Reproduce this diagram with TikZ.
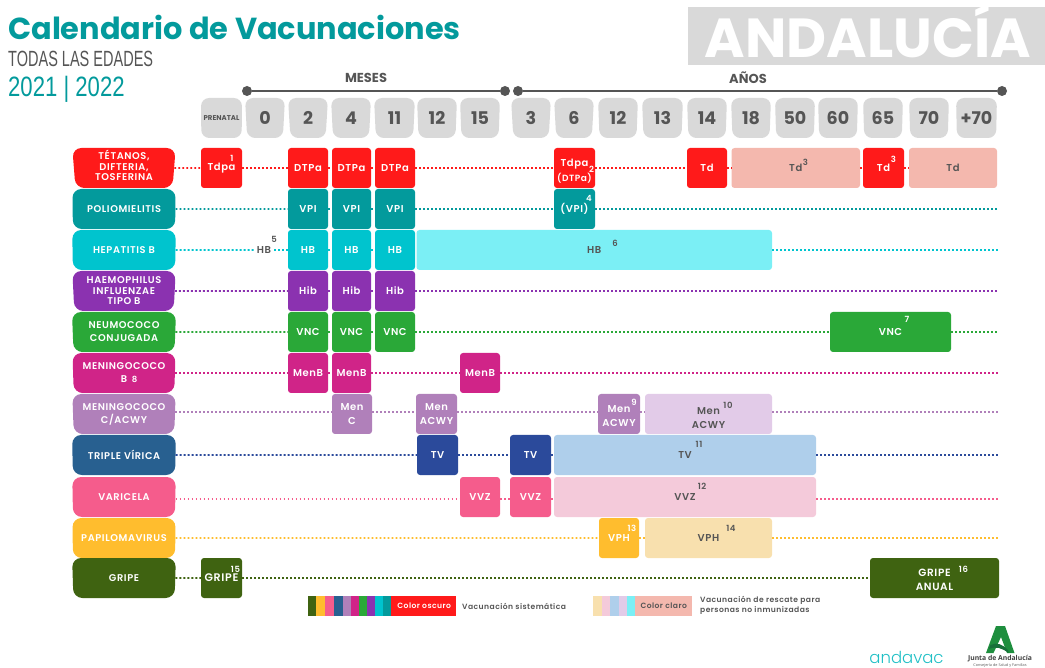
\documentclass[tikz,border=0pt]{standalone}
\usepackage{fontspec}
\setmainfont{Poppins}
\newfontfamily\condf[FakeStretch=0.66]{Liberation Sans}
\newfontfamily\condg[FakeStretch=0.79]{Liberation Sans}
\newfontfamily\lightf[UprightFont=* Light]{Poppins}
\newfontfamily\spf[UprightFont=* SemiBold,LetterSpace=6]{Poppins}
\newfontfamily\junta{Open Sans}
\usetikzlibrary{shapes.geometric}
\definecolor{cred}{HTML}{FF1A1A}
\definecolor{cteal}{HTML}{039A9C}
\definecolor{ccyan}{HTML}{00C4CE}
\definecolor{lcyan}{HTML}{7BEFF5}
\definecolor{cpurp}{HTML}{8B32B0}
\definecolor{cgreen}{HTML}{2AA838}
\definecolor{cmag}{HTML}{D02488}
\definecolor{clil}{HTML}{B080BA}
\definecolor{llil}{HTML}{E2CBE8}
\definecolor{cblue}{HTML}{286090}
\definecolor{dblue}{HTML}{2B4A9B}
\definecolor{lblue}{HTML}{AFCFEB}
\definecolor{cpink}{HTML}{F55C8C}
\definecolor{lpink}{HTML}{F4CADA}
\definecolor{cyel}{HTML}{FFBD2E}
\definecolor{lyel}{HTML}{F8E0AE}
\definecolor{cdgr}{HTML}{3F6311}
\definecolor{lsal}{HTML}{F4B8AE}
\definecolor{tabg}{HTML}{D9D9D9}
\definecolor{dtxt}{HTML}{555555}
\definecolor{jgreen}{HTML}{1E8E3E}
\definecolor{jdark}{HTML}{17703A}
\definecolor{avac}{HTML}{1FBFC5}
\tikzset{
 vbox/.style={rectangle,rounded corners=3pt,inner sep=0pt,align=center,text=white,font=\fontsize{10}{14}\spf},
 lbox/.style={vbox,text=dtxt},
 rowlab/.style={trapezium,trapezium stretches=true,shape border rotate=180,trapezium left angle=87,trapezium right angle=87,rounded corners=9pt,inner sep=0pt,align=center,text=white,minimum width=104pt,minimum height=40pt,font=\fontsize{9.8}{10.5}\spf},
 tabbox/.style={trapezium,trapezium stretches=true,shape border rotate=180,trapezium left angle=87,trapezium right angle=87,rounded corners=8pt,fill=tabg,inner sep=0pt,text=dtxt,minimum height=40pt,font=\fontsize{17.5}{17.5}\bfseries\selectfont},
 supw/.style={inner sep=0pt,text=white,font=\fontsize{8.5}{8.5}\spf},
 supd/.style={inner sep=0pt,text=dtxt,font=\fontsize{8.5}{8.5}\spf},
 vline/.style={line width=1.7pt,dash pattern=on 1.9pt off 2.1pt},
 axisline/.style={draw=dtxt,line width=2.2pt},
 axisdot/.style={circle,fill=dtxt,inner sep=0pt,minimum size=10pt},
 headtxt/.style={inner sep=0pt,text=dtxt,font=\fontsize{13}{13}\bfseries\selectfont},
 legtxt/.style={inner sep=0pt,text=dtxt,align=left,font=\fontsize{7.6}{10.5}\spf},
 strip/.style={inner sep=0pt,minimum height=20pt}
}
% name, x0, x1, ycentre, colour, text
\newcommand\vb[6]{\node[vbox,fill=#5,minimum width={(#3-#2)*1pt},minimum height=40pt] (#1) at ({(#2+#3)/2},#4) {#6};}
\newcommand\lb[6]{\node[lbox,fill=#5,minimum width={(#3-#2)*1pt},minimum height=40pt] (#1) at ({(#2+#3)/2},#4) {#6};}
\newcommand\tb[4]{\node[tabbox,minimum width={(#3-#2)*1pt}] (#1) at ({(#2+#3)/2},118) {#4};}
\newcommand\stripc[3]{\node[strip,fill=#3,minimum width={(#2-#1)*1pt},anchor=west] at (#1,606) {};}
\begin{document}
\begin{tikzpicture}[x=1pt,y=-1pt]
\useasboundingbox (0,0) rectangle (1045,668);
% header
\node[inner sep=0pt,anchor=west,text=cteal,font=\fontsize{30.4}{32}\bfseries\selectfont] (title) at (8,27) {Calendario de Vacunaciones};
\node[inner sep=0pt,anchor=west,text=dtxt,font=\fontsize{22}{22}\condf] (sub) at (8,59) {TODAS LAS EDADES};
\node[inner sep=0pt,anchor=west,text=cteal,font=\fontsize{28}{28}\condg] (yrs) at (8,89) {2021 | 2022};
\node[fill=tabg,inner sep=0pt,minimum width=357pt,minimum height=58pt,anchor=north west] (andbox) at (688,7) {};
\node[inner sep=0pt,text=white,font=\fontsize{55}{55}\bfseries\selectfont] (and) at (868,31) {ANDALUCÍA};
% axes
\node[headtxt] (meses) at (366,78) {MESES};
\node[headtxt] (anos) at (748,78) {AÑOS};
\node[axisdot] (m0) at (247,91) {};
\node[axisdot] (m1) at (505,91) {};
\node[axisdot] (a0) at (518,91) {};
\node[axisdot] (a1) at (1002,91) {};
\draw[axisline] (m0) -- (m1);
\draw[axisline] (a0) -- (a1);
% tabs
\node[tabbox,minimum width=41pt,font=\fontsize{7}{7}\bfseries\selectfont] (t00) at (221.5,118) {PRENATAL};
\tb{t01}{245}{285}{0}\tb{t02}{288}{328}{2}\tb{t03}{331}{371}{4}\tb{t04}{374}{415}{11}\tb{t05}{417}{457}{12}\tb{t06}{460}{500}{15}
\tb{t07}{511}{551}{3}\tb{t08}{554}{594}{6}\tb{t09}{598}{638}{12}\tb{t10}{642}{683}{13}\tb{t11}{687}{727}{14}\tb{t12}{731}{771}{18}
\tb{t13}{775}{815}{50}\tb{t14}{818}{858}{60}\tb{t15}{863}{903}{65}\tb{t16}{909}{949}{70}\tb{t17}{956}{997}{+70}
% row labels
\node[rowlab,fill=cred] (l1) at (124,168) {TÉTANOS,\\DIFTERIA,\\TOSFERINA\rule[-5pt]{0pt}{1pt}};
\node[rowlab,fill=cteal] (l2) at (124,209) {POLIOMIELITIS};
\node[rowlab,fill=ccyan] (l3) at (124,250) {HEPATITIS B};
\node[rowlab,fill=cpurp] (l4) at (124,291) {HAEMOPHILUS\\INFLUENZAE\\TIPO B};
\node[rowlab,fill=cgreen] (l5) at (124,332) {NEUMOCOCO\\[2.5pt]CONJUGADA};
\node[rowlab,fill=cmag] (l6) at (124,373) {MENINGOCOCO\\[2.5pt]B\hspace{9pt}};
\node[rowlab,fill=clil] (l7) at (124,414) {MENINGOCOCO\\[2.5pt]C/ACWY};
\node[rowlab,fill=cblue] (l8) at (124,455) {TRIPLE VÍRICA};
\node[rowlab,fill=cpink] (l9) at (124,497) {VARICELA};
\node[rowlab,fill=cyel] (l10) at (124,538) {PAPILOMAVIRUS};
\node[rowlab,fill=cdgr] (l11) at (124,578) {GRIPE};
% row 1
\vb{a1b}{201}{242}{168}{cred}{Tdpa}\vb{a2b}{288}{328}{168}{cred}{DTPa}\vb{a3b}{332}{371}{168}{cred}{DTPa}\vb{a4b}{375}{415}{168}{cred}{DTPa}
\vb{a5b}{554}{595}{168}{cred}{\rule{0pt}{13pt}Tdpa\\[1pt]{\fontsize{9}{10}\spf(DTPa)}}\vb{a6b}{687}{727}{168}{cred}{Td}\lb{a7b}{731.5}{860}{168}{lsal}{Td}
\vb{a8b}{863}{904}{168}{cred}{Td}\lb{a9b}{909}{997}{168}{lsal}{\raisebox{-3pt}{Td}}
\draw[vline,cred] (l1)--(a1b); \draw[vline,cred] (a1b)--(a2b); \draw[vline,cred] (a2b)--(a3b); \draw[vline,cred] (a3b)--(a4b); \draw[vline,cred] (a4b)--(a5b); \draw[vline,cred] (a5b)--(a6b); \draw[vline,cred] (a6b)--(a7b); \draw[vline,cred] (a7b)--(a8b); \draw[vline,cred] (a8b)--(a9b);
% row 2
\vb{b1}{288}{328}{209}{cteal}{VPI}\vb{b2}{332}{371}{209}{cteal}{VPI}\vb{b3}{375}{415}{209}{cteal}{VPI}\vb{b4}{554}{595}{209}{cteal}{(VPI)}
\coordinate (be) at (998,209);
\draw[vline,cteal] (l2)--(b1); \draw[vline,cteal] (b1)--(b2); \draw[vline,cteal] (b2)--(b3); \draw[vline,cteal] (b3)--(b4); \draw[vline,cteal] (b4)--(be);
% row 3
\node[inner sep=0pt,minimum width=20pt,minimum height=14pt,text=dtxt,font=\fontsize{10}{13}\spf] (c0) at (264,250) {HB};
\vb{c1}{288}{328}{250}{ccyan}{HB}\vb{c2}{332}{371}{250}{ccyan}{HB}\vb{c3}{375}{415}{250}{ccyan}{HB}\lb{c4}{416.5}{772}{250}{lcyan}{HB}
\coordinate (ce) at (998,250);
\draw[vline,ccyan] (l3)--(c0); \draw[vline,ccyan] (c0)--(c1); \draw[vline,ccyan] (c1)--(c2); \draw[vline,ccyan] (c2)--(c3); \draw[vline,ccyan] (c4)--(ce);
% row 4
\vb{d1}{288}{328}{291}{cpurp}{Hib}\vb{d2}{332}{371}{291}{cpurp}{Hib}\vb{d3}{375}{415}{291}{cpurp}{Hib}
\coordinate (de) at (998,291);
\draw[vline,cpurp] (l4)--(d1); \draw[vline,cpurp] (d1)--(d2); \draw[vline,cpurp] (d2)--(d3); \draw[vline,cpurp] (d3)--(de);
% row 5
\vb{e1}{288}{328}{332}{cgreen}{VNC}\vb{e2}{332}{371}{332}{cgreen}{VNC}\vb{e3}{375}{415}{332}{cgreen}{VNC}\vb{e4}{830}{951}{332}{cgreen}{VNC}
\coordinate (ee) at (998,332);
\draw[vline,cgreen] (l5)--(e1); \draw[vline,cgreen] (e1)--(e2); \draw[vline,cgreen] (e2)--(e3); \draw[vline,cgreen] (e3)--(e4); \draw[vline,cgreen] (e4)--(ee);
% row 6
\vb{f1}{288}{328}{373}{cmag}{MenB}\vb{f2}{332}{371}{373}{cmag}{MenB}\vb{f3}{460}{500}{373}{cmag}{MenB}
\coordinate (fe) at (998,373);
\draw[vline,cmag] (l6)--(f1); \draw[vline,cmag] (f1)--(f2); \draw[vline,cmag] (f2)--(f3); \draw[vline,cmag] (f3)--(fe);
% row 7
\vb{g1}{332}{372}{414}{clil}{Men\\C}\vb{g2}{416}{457}{414}{clil}{Men\\ACWY}\vb{g3}{598}{640}{414}{clil}{\rule{0pt}{11pt}Men\\ACWY}\lb{g4}{645}{772}{414}{llil}{\rule{0pt}{15pt}Men\\ACWY}
\coordinate (ge) at (998,412);
\draw[vline,clil] (l7.east |- ge)--(g1.west |- ge); \draw[vline,clil] (g1.east |- ge)--(g2.west |- ge); \draw[vline,clil] (g2.east |- ge)--(g3.west |- ge); \draw[vline,clil] (g3.east |- ge)--(g4.west |- ge); \draw[vline,clil] (g4.east |- ge)--(ge);
% row 8
\vb{h1}{417}{458}{455}{dblue}{TV}\vb{h2}{510}{551}{455}{dblue}{TV}\lb{h3}{554}{816}{455}{lblue}{TV}
\coordinate (he) at (998,455);
\draw[vline,dblue] (l8)--(h1); \draw[vline,dblue] (h1)--(h2); \draw[vline,dblue] (h2)--(h3); \draw[vline,dblue] (h3)--(he);
% row 9
\vb{i1}{460}{500}{497}{cpink}{VVZ}\vb{i2}{510}{551}{497}{cpink}{VVZ}\lb{i3}{554}{816}{497}{lpink}{VVZ}
\coordinate (ie) at (998,499);
\draw[vline,cpink] (l9.east |- ie)--(i1.west |- ie); \draw[vline,cpink] (i1.east |- ie)--(i2.west |- ie); \draw[vline,cpink] (i2.east |- ie)--(i3.west |- ie); \draw[vline,cpink] (i3.east |- ie)--(ie);
% row 10
\vb{j1}{599}{639}{538}{cyel}{VPH}\lb{j2}{645}{772}{538}{lyel}{VPH}
\coordinate (je) at (998,538);
\draw[vline,cyel] (l10)--(j1); \draw[vline,cyel] (j1)--(j2); \draw[vline,cyel] (j2)--(je);
% row 11
\node[vbox,fill=cdgr,minimum width=41pt,minimum height=40pt,font=\fontsize{11}{14}\spf] (k1) at (221.5,578) {\raisebox{-2pt}{GRIPE}};
\node[vbox,fill=cdgr,minimum width=129pt,minimum height=40pt,font=\fontsize{10.5}{14.5}\spf] (k2) at (934.5,578) {\rule{0pt}{11pt}GRIPE\\ANUAL};
\draw[vline,cdgr] (l11)--(k1); \draw[vline,cdgr] (k1)--(k2);
% superscripts
\node[supw] (s1) at (232,158) {1};
\node[supw] (s2) at (591.5,169) {2};
\node[supd] (s3a) at (805.5,162) {3};
\node[supw] (s3b) at (893.5,159) {3};
\node[supw] (s4) at (589,198) {4};
\node[supd] (s5) at (274,239) {5};
\node[supd] (s6) at (615,243) {6};
\node[supw] (s7) at (907,319) {7};
\node[supw] (s8) at (134.7,379) {8};
\node[supw] (s9) at (634,402) {9};
\node[supd] (s10) at (728,405) {10};
\node[supd] (s11) at (699,444) {11};
\node[supd] (s12) at (702,486) {12};
\node[supw] (s13) at (632,528) {13};
\node[supd] (s14) at (731,528) {14};
\node[supw] (s15) at (235.5,569) {15};
\node[supw] (s16) at (963.5,569) {16};
% legend
\stripc{308}{316}{cdgr}\stripc{316}{325}{cyel}\stripc{325}{334}{cpink}\stripc{334}{343}{cblue}\stripc{343}{351}{clil}\stripc{351}{359}{cmag}\stripc{359}{367}{cgreen}\stripc{367}{375}{cpurp}\stripc{375}{383}{ccyan}\stripc{383}{391}{cteal}
\node[strip,fill=cred,minimum width=65pt,anchor=west,text=white,font=\fontsize{7.6}{8}\spf] (lego) at (391,606) {\hspace{1pt}Color oscuro};
\node[legtxt,anchor=west] (legot) at (462,606) {Vacunación sistemática};
\stripc{593}{602}{lyel}\stripc{602}{610}{lpink}\stripc{610}{619}{lblue}\stripc{619}{627}{llil}\stripc{627}{635}{lcyan}
\node[strip,fill=lsal,minimum width=57pt,anchor=west,text=dtxt,font=\fontsize{7.6}{8}\spf] (legc) at (635,606) {Color claro};
\node[legtxt,anchor=west] (legct) at (700,605.5) {Vacunación de rescate para\\personas no inmunizadas};
% logos
\node[inner sep=0pt,anchor=base,text=avac,font=\fontsize{16.5}{17}\lightf] (andv) at (906.5,663) {andavac};
\fill[jgreen] (996,626) -- (1005,626) -- (1014.5,653) -- (1007,653) -- (1001,637) -- (993.5,653) -- (986,653) -- cycle;
\fill[jdark] (990.5,645) .. controls (997,642) and (1002,644) .. (1008,650) -- (1008.5,653) .. controls (1002,648) and (996,646) .. (989,649) -- cycle;
\node[inner sep=0pt,text=black!75,font=\fontsize{6.8}{8}\junta\bfseries] (jta) at (1000,659) {Junta de Andalucía};
\node[inner sep=0pt,text=black!65,font=\fontsize{3.8}{5}\junta] (cons) at (1000,665) {Consejería de Salud y Familias};
\end{tikzpicture}
\end{document}
